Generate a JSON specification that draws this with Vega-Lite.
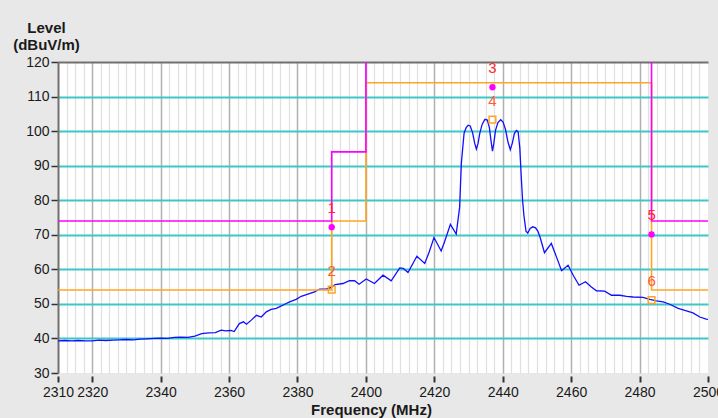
{
  "$schema": "https://vega.github.io/schema/vega-lite/v6.json",
  "width": 650,
  "height": 311,
  "autosize": {"type": "none"},
  "padding": {"left": 58, "top": 62, "right": 10, "bottom": 45},
  "background": "#e8e8e8",
  "config": {
    "view": {"stroke": null, "fill": "#ffffff"},
    "font": "Liberation Sans",
    "axis": {"labelFont": "Liberation Sans", "titleFont": "Liberation Sans"}
  },
  "datasets": {
    "trace": [
      {"f": 2310, "v": 39.3}, {"f": 2312, "v": 39.4}, {"f": 2314, "v": 39.3}, {"f": 2316, "v": 39.4},
      {"f": 2318, "v": 39.3}, {"f": 2320, "v": 39.3}, {"f": 2322, "v": 39.5}, {"f": 2324, "v": 39.4},
      {"f": 2326, "v": 39.5}, {"f": 2328, "v": 39.6}, {"f": 2330, "v": 39.7}, {"f": 2332, "v": 39.6},
      {"f": 2334, "v": 39.8}, {"f": 2336, "v": 39.9}, {"f": 2338, "v": 40.0}, {"f": 2340, "v": 40.1},
      {"f": 2342, "v": 40.0}, {"f": 2344, "v": 40.3}, {"f": 2346, "v": 40.4}, {"f": 2348, "v": 40.3},
      {"f": 2350, "v": 40.7}, {"f": 2352, "v": 41.4}, {"f": 2354, "v": 41.6}, {"f": 2356, "v": 41.7},
      {"f": 2357.7, "v": 42.4}, {"f": 2359, "v": 42.2}, {"f": 2360.5, "v": 42.3}, {"f": 2361.5, "v": 42.0},
      {"f": 2363, "v": 44.3}, {"f": 2364.2, "v": 44.8}, {"f": 2365.1, "v": 44.1}, {"f": 2366.5, "v": 45.3},
      {"f": 2368, "v": 46.7}, {"f": 2369.4, "v": 46.2}, {"f": 2370.9, "v": 47.7}, {"f": 2372.3, "v": 48.4},
      {"f": 2373.8, "v": 48.7}, {"f": 2375.3, "v": 49.4}, {"f": 2376.7, "v": 50.1}, {"f": 2377.7, "v": 50.6},
      {"f": 2379.6, "v": 51.3}, {"f": 2381.1, "v": 52.2}, {"f": 2382.6, "v": 52.7}, {"f": 2385, "v": 53.5},
      {"f": 2386.5, "v": 54.3}, {"f": 2388.4, "v": 54.3}, {"f": 2389.9, "v": 54.8}, {"f": 2391, "v": 55.6},
      {"f": 2393.3, "v": 55.9}, {"f": 2395.2, "v": 56.7}, {"f": 2396.7, "v": 56.7}, {"f": 2398, "v": 55.7},
      {"f": 2400.1, "v": 57.2}, {"f": 2402.5, "v": 55.9}, {"f": 2405, "v": 58.3}, {"f": 2407.4, "v": 56.7},
      {"f": 2409.9, "v": 60.4}, {"f": 2410.9, "v": 60.3}, {"f": 2412.3, "v": 59.1}, {"f": 2414.9, "v": 63.8},
      {"f": 2417.2, "v": 61.7}, {"f": 2418.5, "v": 65.0}, {"f": 2419.9, "v": 69.2}, {"f": 2422, "v": 65.3},
      {"f": 2423, "v": 68.0}, {"f": 2424.7, "v": 73.0}, {"f": 2426.4, "v": 70.2}, {"f": 2427.4, "v": 78.0},
      {"f": 2427.9, "v": 90.7}, {"f": 2428.7, "v": 99.4}, {"f": 2429.3, "v": 101.0}, {"f": 2429.9, "v": 101.7},
      {"f": 2430.5, "v": 101.5}, {"f": 2431.2, "v": 99.5}, {"f": 2431.8, "v": 96.5}, {"f": 2432.3, "v": 94.8},
      {"f": 2432.8, "v": 96.5}, {"f": 2433.3, "v": 99.4}, {"f": 2434, "v": 102.0}, {"f": 2434.8, "v": 103.4},
      {"f": 2435.5, "v": 103.2}, {"f": 2436.1, "v": 101.0}, {"f": 2436.6, "v": 97.0}, {"f": 2437, "v": 94.2},
      {"f": 2437.4, "v": 96.5}, {"f": 2437.9, "v": 100.3}, {"f": 2438.6, "v": 102.5}, {"f": 2439.4, "v": 103.3},
      {"f": 2440.1, "v": 102.6}, {"f": 2440.8, "v": 100.5}, {"f": 2441.5, "v": 97.0}, {"f": 2442.2, "v": 94.6},
      {"f": 2442.8, "v": 96.5}, {"f": 2443.4, "v": 99.3}, {"f": 2444, "v": 100.2}, {"f": 2444.5, "v": 99.8},
      {"f": 2445, "v": 95.0}, {"f": 2445.4, "v": 87.0}, {"f": 2445.8, "v": 80.0}, {"f": 2446.2, "v": 75.5},
      {"f": 2446.8, "v": 71.0}, {"f": 2447.3, "v": 70.5}, {"f": 2448, "v": 71.8}, {"f": 2448.8, "v": 72.3},
      {"f": 2449.6, "v": 72.0}, {"f": 2450.3, "v": 71.0}, {"f": 2451, "v": 69.0}, {"f": 2452.2, "v": 64.8},
      {"f": 2454.2, "v": 67.5}, {"f": 2455.7, "v": 63.6}, {"f": 2457.2, "v": 59.6}, {"f": 2459.1, "v": 61.2},
      {"f": 2460.6, "v": 58.3}, {"f": 2462.3, "v": 55.4}, {"f": 2464.2, "v": 56.4}, {"f": 2465.9, "v": 54.9},
      {"f": 2467.4, "v": 53.8}, {"f": 2469.8, "v": 53.7}, {"f": 2471.8, "v": 52.5}, {"f": 2474.2, "v": 52.5},
      {"f": 2476.2, "v": 52.2}, {"f": 2478.1, "v": 52.0}, {"f": 2481, "v": 51.9}, {"f": 2483, "v": 51.3},
      {"f": 2484.9, "v": 50.9}, {"f": 2486.9, "v": 50.6}, {"f": 2488.8, "v": 49.9}, {"f": 2491.3, "v": 48.7},
      {"f": 2493.7, "v": 48.0}, {"f": 2495.6, "v": 47.4}, {"f": 2497.6, "v": 46.2}, {"f": 2499.5, "v": 45.6},
      {"f": 2500, "v": 45.5}
    ],
    "peakLimit": [
      {"i": 1, "seg": "a", "f": 2310, "v": 74}, {"i": 2, "seg": "a", "f": 2390, "v": 74},
      {"i": 3, "seg": "a", "f": 2390, "v": 94}, {"i": 4, "seg": "a", "f": 2400, "v": 94},
      {"i": 5, "seg": "a", "f": 2400, "v": 120},
      {"i": 6, "seg": "b", "f": 2483.5, "v": 120}, {"i": 7, "seg": "b", "f": 2483.5, "v": 74},
      {"i": 8, "seg": "b", "f": 2500, "v": 74}
    ],
    "avgLimit": [
      {"i": 1, "f": 2310, "v": 54}, {"i": 2, "f": 2390, "v": 54}, {"i": 3, "f": 2390, "v": 74},
      {"i": 4, "f": 2400, "v": 74}, {"i": 5, "f": 2400, "v": 114}, {"i": 6, "f": 2483.5, "v": 114},
      {"i": 7, "f": 2483.5, "v": 54}, {"i": 8, "f": 2500, "v": 54}
    ],
    "markerLines": [{"f": 2390}, {"f": 2437}, {"f": 2483.5}],
    "markers": [
      {"label": "1", "type": "peak", "f": 2390, "v": 72.2},
      {"label": "2", "type": "avg", "f": 2390, "v": 54.1},
      {"label": "3", "type": "peak", "f": 2437, "v": 112.7},
      {"label": "4", "type": "avg", "f": 2437, "v": 103.3},
      {"label": "5", "type": "peak", "f": 2483.5, "v": 70.1},
      {"label": "6", "type": "avg", "f": 2483.5, "v": 51.1}
    ]
  },
  "encoding": {
    "y": {
      "field": "v", "type": "quantitative",
      "scale": {"domain": [30, 120], "nice": false, "zero": false},
      "axis": {
        "values": [30, 40, 50, 60, 70, 80, 90, 100, 110, 120],
        "grid": true,
        "gridColor": {"condition": {"test": "datum.value == 30 || datum.value == 120", "value": "transparent"}, "value": "#3cc8c8"},
        "gridWidth": 2,
        "domain": true, "domainColor": "#707070", "domainWidth": 2,
        "ticks": true, "tickSize": 7, "tickWidth": 1.5, "tickColor": "#333333",
        "labelFontSize": 14, "labelColor": "#1a1a1a", "labelPadding": 2,
        "title": ["Level", "(dBuV/m)"],
        "titleFontSize": 15, "titleFontWeight": "bold", "titleColor": "#1a1a1a",
        "titleAngle": 0, "titleAlign": "center", "titleBaseline": "alphabetic",
        "titleX": -12, "titleY": -30, "titleLineHeight": 17
      }
    }
  },
  "layer": [
    {
      "data": {"name": "trace"},
      "mark": {"type": "line", "color": "#1010ff", "strokeWidth": 1.3},
      "encoding": {
        "x": {
          "field": "f", "type": "quantitative",
          "scale": {"domain": [2310, 2500], "nice": false, "zero": false},
          "axis": {
            "orient": "top", "title": null, "labels": false, "ticks": false,
            "domain": true, "domainColor": "#707070", "domainWidth": 2,
            "grid": true, "gridColor": "#e0e0e0", "gridWidth": 1.2,
            "values": [2312.5,2315,2317.5,2322.5,2325,2327.5,2330,2332.5,2335,2337.5,2342.5,2345,2347.5,2350,2352.5,2355,2357.5,2362.5,2365,2367.5,2370,2372.5,2375,2377.5,2382.5,2385,2387.5,2390,2392.5,2395,2397.5,2402.5,2405,2407.5,2410,2412.5,2415,2417.5,2422.5,2425,2427.5,2430,2432.5,2435,2437.5,2442.5,2445,2447.5,2450,2452.5,2455,2457.5,2462.5,2465,2467.5,2470,2472.5,2475,2477.5,2482.5,2485,2487.5,2490,2492.5,2495,2497.5]
          }
        }
      }
    },
    {
      "data": {"name": "markerLines"},
      "mark": {"type": "rule", "color": "#ff00ff", "strokeWidth": 1.5},
      "encoding": {
        "x": {
          "field": "f", "type": "quantitative",
          "scale": {"domain": [2310, 2500], "nice": false, "zero": false},
          "axis": {
            "orient": "bottom", "title": null, "labels": false, "ticks": false, "domain": false,
            "grid": true, "gridColor": "#b0b0b0", "gridWidth": 1.5,
            "values": [2320, 2340, 2360, 2380, 2400, 2420, 2440, 2460, 2480]
          }
        }
      }
    },
    {
      "data": {"name": "avgLimit"},
      "mark": {"type": "line", "color": "#ffa520", "strokeWidth": 1.6},
      "encoding": {
        "x": {
          "field": "f", "type": "quantitative",
          "scale": {"domain": [2310, 2500], "nice": false, "zero": false},
          "axis": {
            "orient": "bottom", "grid": false, "domain": false, "format": "d",
            "values": [2310, 2320, 2340, 2360, 2380, 2400, 2420, 2440, 2460, 2480, 2500],
            "ticks": true, "tickSize": 6, "tickWidth": 2, "tickColor": "#333333", "offset": 3,
            "labelFontSize": 14, "labelColor": "#1a1a1a", "labelPadding": 3, "labelFlush": false,
            "title": "Frequency (MHz)", "titleFontSize": 15, "titleFontWeight": "bold", "titleColor": "#1a1a1a",
            "titleAlign": "center", "titleBaseline": "alphabetic", "titleX": 313, "titleY": 38
          }
        },
        "order": {"field": "i", "type": "quantitative"}
      }
    },
    {
      "data": {"name": "peakLimit"},
      "mark": {"type": "line", "color": "#ff00ff", "strokeWidth": 1.6},
      "encoding": {
        "x": {
          "field": "f", "type": "quantitative",
          "scale": {"domain": [2310, 2500], "nice": false, "zero": false},
          "axis": null
        },
        "detail": {"field": "seg"},
        "order": {"field": "i", "type": "quantitative"}
      }
    },
    {
      "data": {"name": "markers"},
      "transform": [{"filter": "datum.type == 'peak'"}],
      "mark": {"type": "point", "shape": "circle", "filled": true, "color": "#ff00ff", "size": 40, "opacity": 1},
      "encoding": {
        "x": {"field": "f", "type": "quantitative", "scale": {"domain": [2310, 2500], "nice": false, "zero": false}, "axis": null}
      }
    },
    {
      "data": {"name": "markers"},
      "transform": [{"filter": "datum.type == 'avg'"}],
      "mark": {"type": "point", "shape": "square", "filled": false, "color": "#ffa520", "size": 45, "strokeWidth": 1.5, "opacity": 1},
      "encoding": {
        "x": {"field": "f", "type": "quantitative", "scale": {"domain": [2310, 2500], "nice": false, "zero": false}, "axis": null}
      }
    },
    {
      "data": {"name": "markers"},
      "mark": {"type": "text", "fontSize": 15, "baseline": "alphabetic", "align": "center", "dy": -14},
      "encoding": {
        "x": {"field": "f", "type": "quantitative", "scale": {"domain": [2310, 2500], "nice": false, "zero": false}, "axis": null},
        "text": {"field": "label"},
        "color": {"field": "type", "type": "nominal", "scale": {"domain": ["peak", "avg"], "range": ["#ff2a2a", "#ff5a30"]}, "legend": null}
      }
    }
  ],
  "resolve": {"axis": {"x": "independent"}}
}
